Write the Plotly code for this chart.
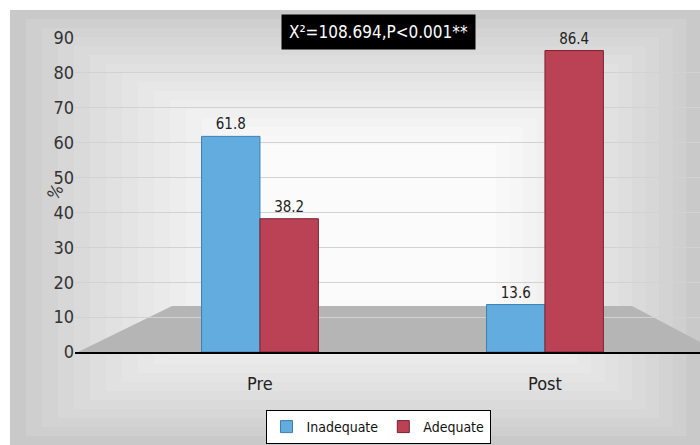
import plotly.graph_objects as go

categories = ["Pre", "Post"]
inadequate = [61.8, 13.6]
adequate = [38.2, 86.4]
series_names = ["Inadequate", "Adequate"]
y_ticks = [0, 10, 20, 30, 40, 50, 60, 70, 80, 90]
stat_text = "X²=108.694,P<0.001**"

FONT = "DejaVu Sans Condensed, Liberation Sans Narrow, sans-serif"
BLUE = "#62ace0"
RED = "#bb4254"

W, H = 700, 445
L, R, T, B = 75, 0, 38, 93
pw, ph = W - L - R, H - T - B


def px(x):
    return (x - L) / pw


def py(y):
    return (H - B - y) / ph


fig = go.Figure()
fig.add_trace(go.Bar(
    name=series_names[0], x=categories, y=inadequate,
    marker=dict(color=BLUE, line=dict(color="#3f7fae", width=1)),
    text=[f"{v:.1f}" for v in inadequate], textposition="outside",
    textfont=dict(family=FONT, size=15, color="#222222"), cliponaxis=False,
))
fig.add_trace(go.Bar(
    name=series_names[1], x=categories, y=adequate,
    marker=dict(color=RED, line=dict(color="#7a2030", width=1)),
    text=[f"{v:.1f}" for v in adequate], textposition="outside",
    textfont=dict(family=FONT, size=15, color="#222222"), cliponaxis=False,
))

shapes = []
# background frame with simulated radial gradient
frame = (10, 10, 700, 445)
n = 16
for i in range(n):
    t = i / (n - 1)
    g = int(round(0xc9 + (0xfb - 0xc9) * (t ** 0.8)))
    c = f"#{g:02x}{g:02x}{g:02x}"
    dx = i * 16
    dy = i * 9
    shapes.append(dict(
        type="rect", xref="paper", yref="paper", layer="below",
        x0=px(frame[0] + dx), x1=px(frame[2] - dx * 0.85),
        y0=py(frame[3] - dy), y1=py(frame[1] + dy),
        fillcolor=c, line=dict(width=0),
    ))
# floor
floor = [(78, 352), (172, 306), (632, 306), (700, 342), (700, 352)]
path = "M " + " L ".join(f"{px(a)},{py(b)}" for a, b in floor) + " Z"
shapes.append(dict(type="path", xref="paper", yref="paper", layer="below",
                   path=path, fillcolor="#b5b5b5", line=dict(width=0)))

fig.update_layout(
    width=W, height=H,
    margin=dict(l=L, r=R, t=T, b=B),
    paper_bgcolor="white",
    plot_bgcolor="rgba(0,0,0,0)",
    barmode="group",
    bargap=0.59,
    bargroupgap=0.0,
    font=dict(family=FONT, color="#333333"),
    shapes=shapes,
    showlegend=True,
    legend=dict(
        orientation="h", x=px(378), xanchor="center", y=py(410), yanchor="top",
        bgcolor="white", bordercolor="black", borderwidth=1,
        font=dict(family=FONT, size=14, color="#111111"),
        itemwidth=30, traceorder="normal", tracegroupgap=0,
    ),
    annotations=[
        dict(text=stat_text, xref="paper", yref="paper", x=px(378), y=py(32),
             showarrow=False, font=dict(family=FONT, size=17, color="white"),
             bgcolor="black", borderpad=7, xanchor="center", yanchor="middle"),
        dict(text="%", xref="paper", yref="paper", x=px(40), y=py(192),
             showarrow=False, textangle=-60,
             font=dict(family=FONT, size=17, color="#333333")),
    ],
)
fig.update_yaxes(
    range=[0, 90], tickvals=y_ticks, showgrid=True, gridcolor="#d2d2d2",
    gridwidth=1, zeroline=False, showline=False,
    tickfont=dict(family=FONT, size=18, color="#333333"),
)
fig.update_xaxes(
    range=[-0.649, 1.544],
    showline=True, linecolor="black", linewidth=2,
    ticks="outside", ticklen=14, tickcolor="rgba(0,0,0,0)",
    tickfont=dict(family=FONT, size=18, color="#222222"),
)

fig.write_html("out.html")
